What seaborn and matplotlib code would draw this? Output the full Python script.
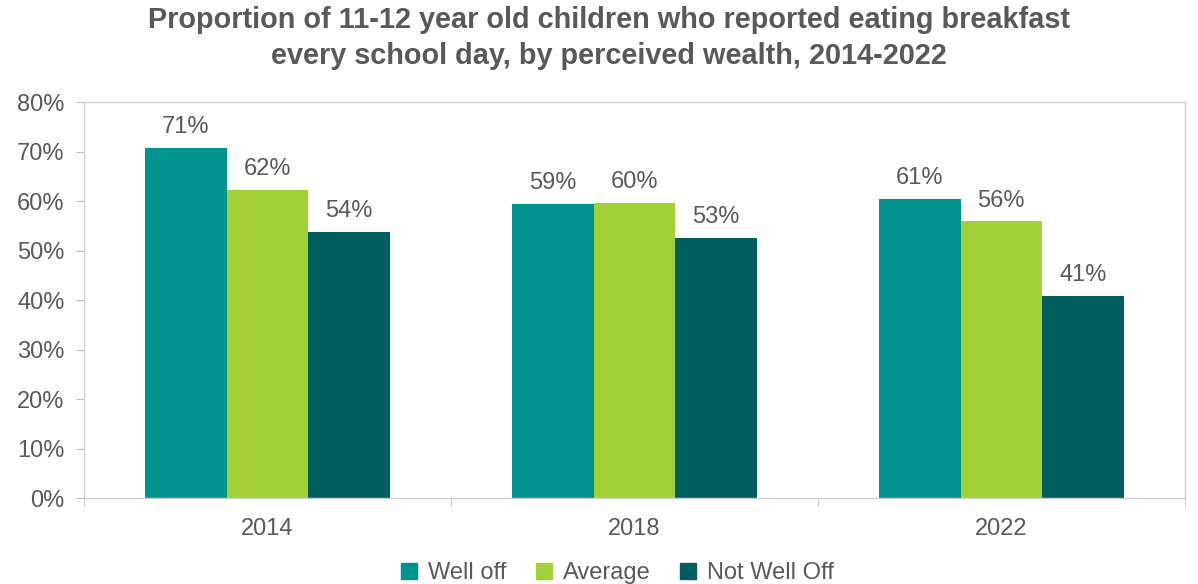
import matplotlib
matplotlib.use("Agg")
import matplotlib.pyplot as plt
import pandas as pd
import seaborn as sns
from matplotlib.ticker import FixedLocator, PercentFormatter

years = ["2014", "2018", "2022"]
groups = ["Well off", "Average", "Not Well Off"]
well_off = [70.8, 59.5, 60.5]
average = [62.3, 59.7, 55.9]
not_well_off = [53.8, 52.6, 40.9]
labels = [["71%", "59%", "61%"], ["62%", "60%", "56%"], ["54%", "53%", "41%"]]
colors = ["#00948F", "#A4D037", "#005F5E"]

rows = []
for g, vals in zip(groups, [well_off, average, not_well_off]):
    for y, v in zip(years, vals):
        rows.append({"Year": y, "Group": g, "Value": v})
df = pd.DataFrame(rows)

sns.set_style("white")
plt.rcParams["font.family"] = ["Liberation Sans", "DejaVu Sans"]
txt = "#595959"

fig = plt.figure(figsize=(11.98, 5.84), dpi=100)
ax = fig.add_axes([0.070, 0.147, 0.919, 0.678])
sns.barplot(data=df, x="Year", y="Value", hue="Group", order=years, hue_order=groups,
            palette=colors, width=0.667, saturation=1, ax=ax, errorbar=None, linewidth=0)

for cont, labs in zip(ax.containers, labels):
    ax.bar_label(cont, labels=labs, padding=7, fontsize=17, color=txt)

ax.set_ylim(0, 80)
ax.set_xlim(-0.5, 2.5)
ax.yaxis.set_major_formatter(PercentFormatter(decimals=0))
ax.set_yticks(range(0, 81, 10))
ax.xaxis.set_minor_locator(FixedLocator([-0.5, 0.5, 1.5, 2.5]))
ax.tick_params(axis="y", labelsize=17, colors=txt, length=6, color="#bfbfbf", left=True, pad=8)
ax.tick_params(axis="x", which="major", labelsize=17, colors=txt, length=0, pad=14)
ax.tick_params(axis="x", which="minor", length=6, color="#bfbfbf", bottom=True)
ax.set_xlabel("")
ax.set_ylabel("")
for s in ax.spines.values():
    s.set_color("#d0d0d0")
    s.set_linewidth(1)

fig.suptitle("Proportion of 11-12 year old children who reported eating breakfast\nevery school day, by perceived wealth, 2014-2022",
             x=0.508, y=0.99, fontsize=20.8, fontweight="bold", color=txt, linespacing=1.35)

ax.legend_.remove()
handles = [plt.Line2D([], [], marker="s", linestyle="", markersize=11, color=c) for c in colors]
fig.legend(handles, groups, loc="lower center", bbox_to_anchor=(0.509, -0.037), ncol=3, frameon=False,
           fontsize=17, labelcolor=txt, handletextpad=-0.2, columnspacing=0.6)

fig.savefig("out.png", dpi=100)
